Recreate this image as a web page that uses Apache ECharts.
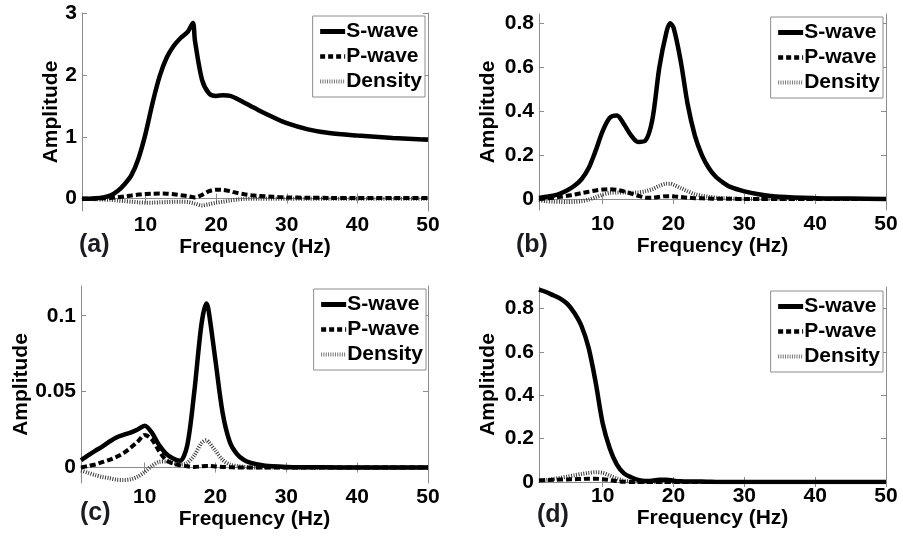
<!DOCTYPE html>
<html>
<head>
<meta charset="utf-8">
<script src="https://cdn.jsdelivr.net/npm/echarts@6/dist/echarts.min.js"></script>
<style>
html,body{margin:0;padding:0;background:#fff;}
#chart{width:903px;height:537px;}
</style>
</head>
<body>
<div id="chart"></div>
<script>
// ---------- data ----------
const seriesNames = ['S-wave', 'P-wave', 'Density'];
const panelLabels = ['(a)', '(b)', '(c)', '(d)'];
const xTicks = [10, 20, 30, 40, 50];

// panel (a)
const freqA = [1,2,3,4,5,6,7,8,9,10,11,12,13,14,15,16,16.7,17,18,19,20,21,22,23,24,25,26,28,30,33,36,40,45,50];
const sA = [0,0,0.005,0.02,0.05,0.12,0.23,0.38,0.65,1.05,1.55,1.98,2.28,2.47,2.6,2.7,2.84,2.55,1.92,1.70,1.66,1.67,1.66,1.61,1.55,1.49,1.43,1.32,1.22,1.12,1.06,1.02,0.98,0.95];
const pA = [0,0,0,0.005,0.01,0.02,0.035,0.05,0.065,0.075,0.08,0.082,0.08,0.07,0.055,0.04,0.025,0.02,0.06,0.12,0.145,0.14,0.12,0.09,0.07,0.055,0.045,0.03,0.02,0.015,0.012,0.01,0.01,0.01];
const dA = [0,-0.005,-0.01,-0.015,-0.02,-0.03,-0.04,-0.05,-0.06,-0.065,-0.065,-0.06,-0.055,-0.05,-0.05,-0.055,-0.07,-0.08,-0.11,-0.09,-0.065,-0.05,-0.03,-0.015,-0.005,0,0,0,0,0,0,0,0,0];
const yTicksA = [0, 1, 2, 3];

// panel (b)
const freqB = [1,2,3,4,5,6,7,8,9,10,11,12,13,14,15,16,17,18,19,19.5,20,21,22,23,24,25,26,27,28,30,32,35,40,45,50];
const sB = [0.005,0.01,0.015,0.025,0.04,0.06,0.09,0.14,0.22,0.31,0.37,0.38,0.34,0.29,0.26,0.265,0.36,0.60,0.76,0.80,0.78,0.63,0.43,0.29,0.2,0.14,0.1,0.075,0.055,0.035,0.022,0.01,0.004,0.002,0];
const pB = [0,0.003,0.006,0.01,0.015,0.02,0.027,0.033,0.039,0.043,0.045,0.042,0.035,0.025,0.015,0.007,0.006,0.01,0.013,0.013,0.012,0.009,0.006,0.004,0.003,0.002,0.001,0.001,0.001,0,0,0,0,0,0];
const dB = [-0.005,-0.01,-0.012,-0.013,-0.014,-0.013,-0.01,-0.003,0.008,0.02,0.028,0.03,0.03,0.029,0.03,0.035,0.045,0.06,0.07,0.07,0.065,0.05,0.035,0.022,0.015,0.01,0.006,0.004,0.002,0,0,0,0,0,0];
const yTicksB = [0, 0.2, 0.4, 0.6, 0.8];

// panel (c)
const freqC = [1,2,3,4,5,6,7,8,9,10,11,12,13,14,15,16,17,18,18.7,19,20,21,22,23,24,25,26,27,28,30,32,35,40,45,50];
const sC = [0.0048,0.008,0.011,0.0138,0.017,0.0198,0.0215,0.023,0.025,0.0275,0.023,0.015,0.0092,0.006,0.0045,0.0145,0.05,0.094,0.108,0.104,0.07,0.036,0.017,0.009,0.005,0.003,0.002,0.0012,0.0008,0.0004,0.0002,0.0001,0,0,0];
const pC = [0,0.001,0.002,0.0035,0.005,0.007,0.0095,0.013,0.017,0.0215,0.0185,0.011,0.005,0.0025,0.0015,0.0008,0.0003,0.0008,0.001,0.001,0.0007,0.0004,0.0002,0,0,0,0,0,0,0,0,0,0,0,0];
const dC = [-0.002,-0.0035,-0.005,-0.0062,-0.007,-0.008,-0.0082,-0.0078,-0.006,-0.003,0.001,0.0037,0.004,0.003,0.002,0.003,0.008,0.016,0.018,0.017,0.011,0.005,0.002,0.001,0.0005,0,0,0,0,0,0,0,0,0,0];
const yTicksC = [0, 0.05, 0.1];

// panel (d)
const freqD = [1,2,3,4,5,6,7,8,9,10,11,12,13,14,15,16,17,18,19,20,21,22,23,24,25,26,27,28,30,32,35,40,45,50];
const sD = [0.888,0.877,0.862,0.846,0.822,0.78,0.72,0.62,0.46,0.27,0.155,0.08,0.04,0.022,0.01,0.005,0.006,0.01,0.01,0.006,0.003,0.002,0.002,0.002,0.001,0,0,0,0,0,0,0,0,0];
const pD = [0.008,0.009,0.01,0.011,0.012,0.013,0.014,0.015,0.015,0.013,0.009,0.004,0.001,0,0,0,0,0,0,0,0,0,0,0,0,0,0,0,0,0,0,0,0,0];
const dD = [0.005,0.009,0.014,0.019,0.025,0.031,0.037,0.042,0.045,0.042,0.03,0.016,0.006,0.002,0.001,0,0,0,0,0,0,0,0,0,0,0,0,0,0,0,0,0,0,0];
const yTicksD = [0, 0.2, 0.4, 0.6, 0.8];

// ---------- layout ----------
const FONT = 'Liberation Sans, Arial, Helvetica, sans-serif';
const FS = 21;
const panels = [
  {freq: freqA, vals: [sA, pA, dA], yTicks: yTicksA, ymin: -0.2, ymax: 3,
   grid: {left: 82, top: 13, width: 346, height: 198}, nameGap: 19,
   legend: {right: 478, top: 16}, label: {left: 79, top: 233}},
  {freq: freqB, vals: [sB, pB, dB], yTicks: yTicksB, ymin: -0.05, ymax: 0.842,
   grid: {left: 539, top: 14, width: 347, height: 196}, nameGap: 40,
   legend: {right: 20, top: 17}, label: {left: 516, top: 233}},
  {freq: freqC, vals: [sC, pC, dC], yTicks: yTicksC, ymin: -0.0102, ymax: 0.1196,
   grid: {left: 81, top: 286, width: 347, height: 197}, nameGap: 46,
   legend: {right: 477, top: 289}, label: {left: 80, top: 501}},
  {freq: freqD, vals: [sD, pD, dD], yTicks: yTicksD, ymin: 0, ymax: 0.9,
   grid: {left: 539, top: 287, width: 347, height: 195}, nameGap: 40,
   legend: {right: 20, top: 291}, label: {left: 537, top: 503}}
];

const lineStyles = [
  {color: '#000', width: 4.5, type: 'solid'},
  {color: '#000', width: 4, type: [6, 3]},
  {color: '#3a3a3a', width: 4, type: [1, 1.5]}
];
const legendLineStyles = [
  {color: '#000', width: 5, type: 'solid'},
  {color: '#000', width: 4.5, type: [5, 3]},
  {color: '#777', width: 4, type: [1, 1.3]}
];

const grid = [], xAxis = [], yAxis = [], series = [], legend = [], title = [];
const axisColor = '#8c8c8c';
panels.forEach((p, i) => {
  grid.push(Object.assign({containLabel: false}, p.grid));
  const xb = {
    type: 'value', gridIndex: i, min: 1, max: 50, position: 'bottom',
    axisLine: {show: true, lineStyle: {color: axisColor, width: 1}},
    axisTick: {show: true, inside: true, length: 5, lineStyle: {color: axisColor}, customValues: xTicks},
    axisLabel: {show: true, margin: 4, color: '#000', fontFamily: FONT, fontWeight: 'bold', fontSize: FS, customValues: xTicks},
    splitLine: {show: false},
    name: 'Frequency (Hz)', nameLocation: 'middle', nameGap: 17,
    nameTextStyle: {color: '#000', fontFamily: FONT, fontWeight: 'bold', fontSize: FS, verticalAlign: 'top'}
  };
  const xt = {
    type: 'value', gridIndex: i, min: 1, max: 50, position: 'top',
    axisLine: {show: true, lineStyle: {color: axisColor, width: 1}},
    axisTick: {show: true, inside: true, length: 5, lineStyle: {color: axisColor}, customValues: xTicks},
    axisLabel: {show: false}, splitLine: {show: false}
  };
  xAxis.push(xb, xt);
  const yl = {
    type: 'value', gridIndex: i, min: p.ymin, max: p.ymax, position: 'left',
    axisLine: {show: true, onZero: false, lineStyle: {color: axisColor, width: 1}},
    axisTick: {show: true, inside: true, length: 5, lineStyle: {color: axisColor}, customValues: p.yTicks},
    axisLabel: {show: true, margin: 5, color: '#000', fontFamily: FONT, fontWeight: 'bold', fontSize: FS, customValues: p.yTicks},
    splitLine: {show: false},
    name: 'Amplitude', nameLocation: 'middle', nameGap: p.nameGap, nameRotate: 90,
    nameTextStyle: {color: '#000', fontFamily: FONT, fontWeight: 'bold', fontSize: FS}
  };
  const yr = {
    type: 'value', gridIndex: i, min: p.ymin, max: p.ymax, position: 'right',
    axisLine: {show: true, onZero: false, lineStyle: {color: axisColor, width: 1}},
    axisTick: {show: true, inside: true, length: 5, lineStyle: {color: axisColor}, customValues: p.yTicks},
    axisLabel: {show: false}, splitLine: {show: false}
  };
  yAxis.push(yl, yr);
  seriesNames.forEach((name, k) => {
    series.push({
      type: 'line', name: name, xAxisIndex: 2 * i, yAxisIndex: 2 * i,
      data: p.freq.map((f, j) => [f, p.vals[k][j]]),
      symbol: 'none', smooth: 0.3, clip: true,
      lineStyle: Object.assign({cap: 'butt'}, lineStyles[k]),
      itemStyle: {color: lineStyles[k].color},
      z: 3 - k
    });
  });
  legend.push({
    orient: 'vertical', right: p.legend.right, top: p.legend.top,
    data: seriesNames.map((n, k) => ({name: n, lineStyle: legendLineStyles[k]})),
    itemWidth: 25, itemHeight: 22, itemGap: 4,
    padding: [5, 3, 5, 5], borderColor: axisColor, borderWidth: 1, borderRadius: 0,
    backgroundColor: '#fff', selectedMode: false,
    itemStyle: {color: 'rgba(0,0,0,0)', borderWidth: 0, opacity: 0},
    textStyle: {color: '#000', fontFamily: FONT, fontWeight: 'bold', fontSize: FS, padding: [0, 0, 0, -4]}
  });
  title.push({
    text: panelLabels[i], left: p.label.left, top: p.label.top, padding: 0,
    textStyle: {color: '#1b1b22', fontFamily: FONT, fontWeight: 'bold', fontSize: 25}
  });
});

const chart = echarts.init(document.getElementById('chart'), null, {renderer: 'canvas'});
chart.setOption({
  animation: false,
  backgroundColor: '#fff',
  title, grid, xAxis, yAxis, series, legend
});
</script>
</body>
</html>
